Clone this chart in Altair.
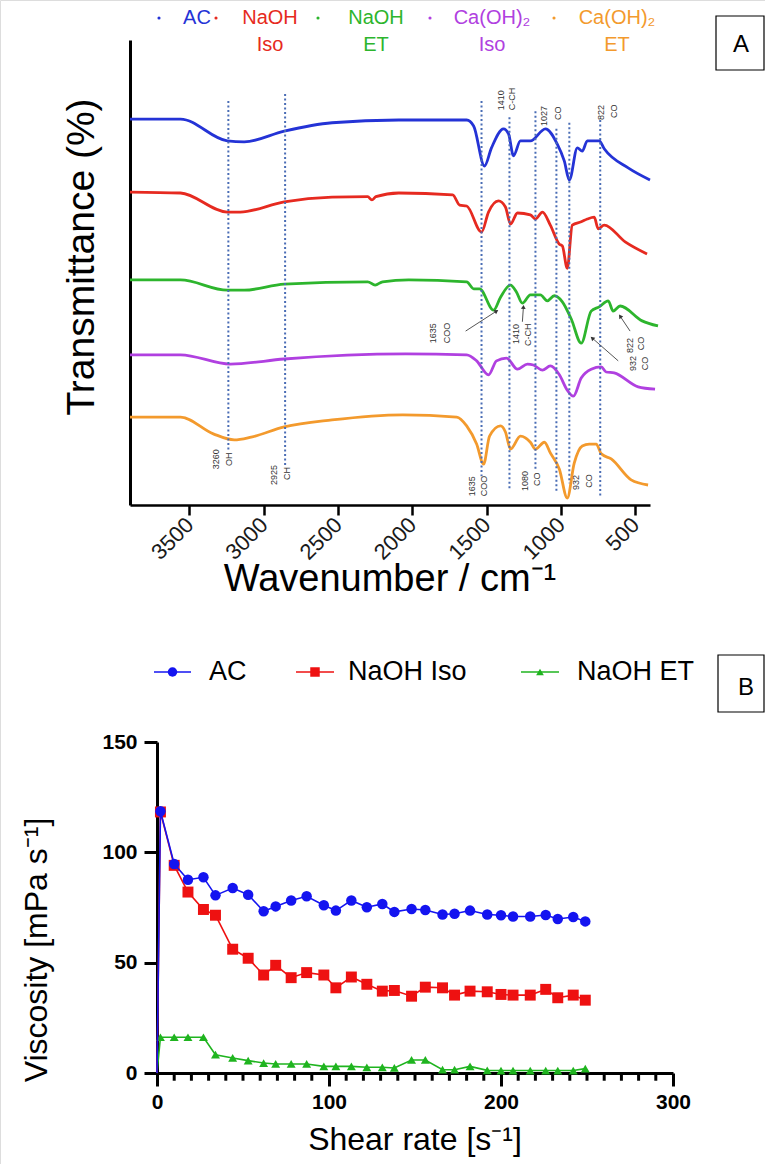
import math
import altair as alt
import pandas as pd

FONT = "Liberation Sans"
W, H = 765, 1164

# ---------------- Panel A : FTIR spectra ----------------
spectra_names = ["AC", "NaOH Iso", "NaOH ET", "Ca(OH)2 Iso", "Ca(OH)2 ET"]
spectra_colors = ["#2433d6", "#e62a20", "#2db52d", "#b040e0", "#f39a2d"]

ac_wn = [3900, 3560, 3245, 3131, 2862, 2540, 2091, 1634, 1587, 1514, 1467, 1386, 1352, 1319,
         1272, 1205, 1104, 1024, 977, 943, 889, 856, 822, 742, 708, 547, 400]
ac_t = [83.0, 83.0, 78.3, 78.1, 80.4, 82.2, 82.8, 82.8, 81.5, 72.9, 76.8, 80.9, 79.8, 75.1,
        78.3, 78.3, 80.9, 77.6, 74.0, 69.9, 76.8, 76.1, 78.3, 78.3, 76.6, 72.5, 69.9]

naoh_iso_wn = [3900, 3560, 3245, 3158, 2862, 2540, 2300, 2272, 2245, 2091, 1728, 1681, 1634, 1534,
               1487, 1420, 1373, 1339, 1292, 1205, 1171, 1124, 1071, 1010, 990, 957, 923, 863,
               822, 775, 749, 708, 567, 420]
naoh_iso_t = [67.3, 67.1, 63.0, 63.0, 65.2, 66.2, 66.3, 65.6, 66.3, 67.1, 66.7, 64.5, 64.3, 58.7,
              63.0, 65.4, 64.1, 60.4, 62.8, 62.4, 61.5, 63.0, 60.2, 56.1, 55.7, 50.9, 60.2, 60.9,
              61.5, 61.9, 59.4, 60.2, 56.6, 54.0]

naoh_et_wn = [3900, 3560, 3245, 3131, 2862, 2300, 2250, 2200, 2024, 1634, 1587, 1547, 1453, 1406,
              1339, 1299, 1259, 1205, 1138, 1091, 1044, 990, 930, 863, 796, 742, 681, 648, 601,
              453, 346]
naoh_et_t = [48.4, 48.4, 46.2, 46.2, 47.5, 48.0, 47.3, 48.0, 48.4, 48.0, 46.5, 46.5, 41.9, 44.7,
             47.3, 45.8, 43.4, 45.2, 45.2, 43.9, 45.0, 43.7, 40.0, 34.8, 41.7, 42.6, 43.9, 41.7,
             42.8, 39.6, 38.5]

caoh_iso_wn = [3900, 3560, 3225, 2862, 2044, 1634, 1567, 1487, 1433, 1366, 1292, 1225, 1185, 1124,
               1071, 1010, 957, 916, 863, 796, 728, 695, 641, 480, 366]
caoh_iso_t = [32.3, 32.3, 30.3, 31.4, 32.5, 32.3, 31.0, 28.0, 31.0, 31.6, 29.2, 30.3, 30.1, 29.0,
              29.9, 28.0, 24.7, 23.4, 27.3, 29.2, 29.7, 28.6, 28.4, 25.4, 24.9]

caoh_et_wn = [3900, 3560, 3339, 3198, 3084, 2862, 2540, 2064, 1701, 1634, 1567, 1520, 1480, 1406,
              1373, 1339, 1272, 1205, 1171, 1111, 1071, 1010, 957, 910, 856, 809, 762, 728, 661,
              527, 413]
caoh_et_t = [18.9, 18.9, 15.3, 14.0, 14.6, 16.8, 18.3, 19.4, 18.9, 17.0, 13.1, 8.8, 14.8, 17.0,
             15.7, 12.0, 14.8, 13.5, 12.0, 13.5, 11.2, 7.7, 1.5, 9.0, 12.7, 13.1, 13.1, 11.0, 9.9,
             5.4, 4.3]

# dotted band markers (position, top, bottom)
band_wn = [3238, 2856, 1534, 1346, 1171, 1030, 943, 735]
band_top = [86.9, 88.4, 86.9, 83.4, 84.7, 80.9, 82.2, 82.8]
band_bottom = [11.6, 8.4, 6.2, 3.2, 7.7, 2.6, 4.7, 1.9]

# peak annotations
peak_text = ["1410", "C-CH", "1027", "CO", "822", "CO",
             "3260", "OH", "2925", "CH", "1635", "COO", "1080", "CO", "932", "CO",
             "1635", "COO", "1410", "C-CH", "822", "CO", "932", "CO"]
peak_wn = [1406, 1326, 1111, 1017, 728, 641,
           3319, 3232, 2930, 2842, 1601, 1520, 1238, 1158, 896, 809,
           1862, 1769, 1299, 1218, 534, 460, 514, 433]
peak_t = [84.9, 84.9, 81.5, 82.8, 82.8, 83.2,
          7.7, 8.4, 4.3, 5.4, 1.9, 1.9, 3.0, 4.1, 3.2, 3.7,
          34.8, 34.8, 34.6, 34.2, 32.7, 33.3, 28.8, 29.0]

# arrows on NaOH ET spectrum
arrow_wn_from = [1641, 1259, 614, 534]
arrow_t_from = [37.4, 39.4, 31.0, 37.4]
arrow_wn_to = [1433, 1252, 789, 601]
arrow_t_to = [41.7, 42.6, 35.9, 40.6]

wn_ticks = [3500, 3000, 2500, 2000, 1500, 1000, 500]

# ---------------- Panel B : viscosity ----------------
series_names = ["AC", "NaOH Iso", "NaOH ET"]
series_colors = ["#1414f0", "#ee1111", "#1fb41f"]
series_shapes = ["circle", "square", "triangle-up"]
shear = [2, 10, 18, 27, 34, 44, 53, 62, 69, 78, 87, 97, 104, 113, 122, 131, 138, 148, 156, 166,
         173, 182, 192, 200, 207, 217, 226, 233, 242, 249]
ac_visc = [118.6, 94.7, 87.6, 88.7, 80.5, 83.8, 80.8, 73.3, 75.5, 78.2, 80.1, 76.0, 73.6, 78.2,
           75.1, 76.6, 73.0, 74.3, 73.9, 71.8, 72.2, 73.6, 71.8, 71.5, 70.9, 70.9, 71.6, 69.8,
           70.7, 68.7]
naoh_iso_visc = [118.3, 94.1, 82.0, 74.1, 71.5, 56.1, 52.0, 44.4, 48.8, 43.2, 45.5, 44.4, 38.6,
                 43.5, 40.2, 37.1, 37.4, 34.8, 38.9, 38.6, 35.3, 37.1, 36.8, 35.6, 35.3, 35.3,
                 37.9, 34.1, 35.3, 33.0]
naoh_et_visc = [16.2, 16.2, 16.2, 16.2, 8.3, 6.8, 5.6, 4.5, 4.1, 4.1, 4.1, 3.0, 3.0, 3.0, 2.6, 2.6,
                2.3, 5.9, 5.9, 1.5, 1.5, 3.0, 1.2, 1.1, 1.1, 1.1, 1.1, 1.1, 1.1, 2.0]
start_shear, start_visc = 0, 0
shear_ticks = [0, 100, 200, 300]
shear_minor = [v for v in range(10, 300, 10) if v % 100 != 0]
visc_ticks = [0, 50, 100, 150]

# ---------------- scales / axes ----------------
A_X0, A_X1, A_Y0, A_Y1 = 130, 650, 505, 40
B_X0, B_X1, B_Y0, B_Y1 = 157, 673, 1073, 742

xA_scale = alt.Scale(domain=[3900, 400], range=[A_X0, A_X1], nice=False, zero=False)
yA_scale = alt.Scale(domain=[0, 100], range=[A_Y0, A_Y1], nice=False, zero=False)
xA_axis = alt.Axis(orient="bottom", offset=A_Y0 - H, values=wn_ticks, labelAngle=-45,
                   labelAlign="right", labelBaseline="middle", labelFontSize=22, labelFont=FONT,
                   labelColor="#1a1a1a", labelPadding=6, tickSize=10, tickWidth=2.5,
                   tickColor="black", domainColor="black", domainWidth=2.5, grid=False,
                   title=None, labelFlush=False, labelOverlap=False, format="d")
yA_axis = alt.Axis(orient="left", offset=-A_X0, ticks=False, labels=False, domainColor="black",
                   domainWidth=3, grid=False, title=None)

xB_scale = alt.Scale(domain=[0, 300], range=[B_X0, B_X1], nice=False, zero=False)
yB_scale = alt.Scale(domain=[0, 150], range=[B_Y0, B_Y1], nice=False, zero=False)
xB_axis = alt.Axis(orient="bottom", offset=B_Y0 - H, values=shear_ticks, tickSize=13,
                   tickWidth=3, tickColor="black", domainColor="black", domainWidth=3,
                   labelFontSize=21, labelFontWeight="bold", labelFont=FONT, labelColor="black",
                   labelPadding=5, grid=False, title=None, labelFlush=False, labelOverlap=False,
                   format="d")
yB_axis = alt.Axis(orient="left", offset=-B_X0, values=visc_ticks, tickSize=13, tickWidth=3,
                   tickColor="black", domainColor="black", domainWidth=3, labelFontSize=21,
                   labelFontWeight="bold", labelFont=FONT, labelColor="black", labelPadding=7,
                   grid=False, title=None, labelFlush=False, labelOverlap=False, format="d")


def xa(f):
    return alt.X(f"{f}:Q", scale=xA_scale, axis=xA_axis)


def ya(f):
    return alt.Y(f"{f}:Q", scale=yA_scale, axis=yA_axis)


def xb(f):
    return alt.X(f"{f}:Q", scale=xB_scale, axis=xB_axis)


def yb(f):
    return alt.Y(f"{f}:Q", scale=yB_scale, axis=yB_axis)


# ---------------- Panel A layers ----------------
rows = []
for name, color, wns, ts in zip(spectra_names, spectra_colors,
                                [ac_wn, naoh_iso_wn, naoh_et_wn, caoh_iso_wn, caoh_et_wn],
                                [ac_t, naoh_iso_t, naoh_et_t, caoh_iso_t, caoh_et_t]):
    for w_, t_ in zip(wns, ts):
        rows.append({"sample": name, "color": color, "wn": w_, "T": t_})
df_spec = pd.DataFrame(rows)

curves = alt.Chart(df_spec).mark_line(strokeWidth=2.8, interpolate="monotone").encode(
    x=xa("wn"), y=ya("T"), color=alt.Color("color:N", scale=None), detail="sample:N",
    order=alt.Order("wn:Q", sort="descending"))

df_bands = pd.DataFrame({"wn": band_wn, "top": band_top, "bottom": band_bottom})
bands = alt.Chart(df_bands).mark_rule(color="#4a6db5", strokeWidth=2, strokeDash=[2, 2.5]).encode(
    x=xa("wn"), y=ya("top"), y2="bottom:Q")

df_peaks = pd.DataFrame({"label": peak_text, "wn": peak_wn, "T": peak_t})
peaks = alt.Chart(df_peaks).mark_text(angle=270, align="left", baseline="middle", fontSize=9,
                                      color="#333333", font=FONT).encode(
    x=xa("wn"), y=ya("T"), text="label:N")

kx = (A_X1 - A_X0) / 3500.0
ky = (A_Y0 - A_Y1) / 100.0
angles = []
for w1, t1, w2, t2 in zip(arrow_wn_from, arrow_t_from, arrow_wn_to, arrow_t_to):
    dx = (w1 - w2) * kx
    dy = -(t2 - t1) * ky
    angles.append(math.degrees(math.atan2(dx, -dy)) % 360)
df_arrows = pd.DataFrame({"wn1": arrow_wn_from, "t1": arrow_t_from, "wn2": arrow_wn_to,
                          "t2": arrow_t_to, "ang": angles})
arrows = alt.Chart(df_arrows).mark_rule(color="#555555", strokeWidth=1).encode(
    x=xa("wn1"), x2="wn2:Q", y=ya("t1"), y2="t2:Q")
heads = alt.Chart(df_arrows).mark_point(shape="triangle-up", filled=True, size=22, color="#333333",
                                        opacity=1).encode(
    x=xa("wn2"), y=ya("t2"), angle=alt.Angle("ang:Q", scale=None))

panelA = alt.layer(curves, bands, peaks, arrows, heads)

# ---------------- Panel B layers ----------------
b_layers = []
df_minor = pd.DataFrame({"s": shear_minor})
b_layers.append(alt.Chart(df_minor).mark_rule(color="black", strokeWidth=3).encode(
    x=xb("s"), y=alt.YDatum(0, scale=yB_scale, axis=yB_axis, type="quantitative"),
    y2=alt.Y2Datum(-3.5)))
visc_series = [ac_visc, naoh_iso_visc, naoh_et_visc]
for idx in [2, 1, 0]:
    name, color, shape, vals = series_names[idx], series_colors[idx], series_shapes[idx], visc_series[idx]
    df_line = pd.DataFrame({"s": [start_shear] + shear, "v": [start_visc] + vals})
    df_pts = pd.DataFrame({"s": shear, "v": vals})
    b_layers.append(alt.Chart(df_line).mark_line(color=color, strokeWidth=1.6).encode(
        x=xb("s"), y=yb("v")))
    size = {"circle": 110, "square": 120, "triangle-up": 80}[shape]
    b_layers.append(alt.Chart(df_pts).mark_point(shape=shape, filled=True, size=size, color=color,
                                                 opacity=1).encode(x=xb("s"), y=yb("v")))
panelB = alt.layer(*b_layers)

# ---------------- decorations (titles, legends, panel tags) ----------------
one = pd.DataFrame({"s": [""]})


def txt(s, x, y, size, color="black", angle=0, weight="normal", align="center"):
    return alt.Chart(pd.DataFrame({"s": [s]})).mark_text(
        font=FONT, fontSize=size, color=color, angle=angle, fontWeight=weight, align=align,
        baseline="middle").encode(text="s:N", x=alt.value(x), y=alt.value(y))


def box(x1, y1, x2, y2):
    return alt.Chart(one).mark_rect(filled=False, color="black", strokeWidth=1.2).encode(
        x=alt.value(x1), x2=alt.value(x2), y=alt.value(y1), y2=alt.value(y2))


decos = []
# Panel A legend
legA_dot_x = [159, 216, 318, 430, 554]
legA_txt_x = [197, 270, 376, 492, 617]
for name, color, dx, tx in zip(spectra_names, spectra_colors, legA_dot_x, legA_txt_x):
    decos.append(alt.Chart(one).mark_circle(size=10, color=color, opacity=1).encode(
        x=alt.value(dx), y=alt.value(18)))
    parts = name.replace("(OH)2", "(OH)\u2082").split(" ")
    decos.append(txt(parts[0], tx, 18, 20, color))
    if len(parts) > 1:
        decos.append(txt(parts[1], tx, 45, 20, color))
decos.append(box(716, 16, 764, 70))
decos.append(txt("A", 741, 45, 24))
decos.append(txt("Transmittance (%)", 82, 257, 39, angle=270))
decos.append(txt("Wavenumber / cm\u207b\u00b9", 390, 580, 38))

# Panel B legend
legB_line_x = [(154, 191), (296, 334), (521, 559)]
legB_txt_x = [209, 348, 577]
LEG_Y = 672
for name, color, shape, (l0, l1), tx in zip(series_names, series_colors, series_shapes,
                                           legB_line_x, legB_txt_x):
    decos.append(alt.Chart(one).mark_rule(color=color, strokeWidth=1.6).encode(
        x=alt.value(l0), x2=alt.value(l1), y=alt.value(LEG_Y)))
    size = {"circle": 90, "square": 90, "triangle-up": 60}[shape]
    decos.append(alt.Chart(one).mark_point(shape=shape, filled=True, size=size, color=color,
                                           opacity=1).encode(
        x=alt.value((l0 + l1) / 2), y=alt.value(LEG_Y)))
    decos.append(txt(name, tx, LEG_Y, 27, align="left"))
decos.append(box(718, 655, 764, 712))
decos.append(txt("B", 746, 688, 24))
decos.append(txt("Viscosity [mPa s\u207b\u00b9]", 37, 950, 32, angle=270))
decos.append(txt("Shear rate [s\u207b\u00b9]", 415, 1140, 32))

chart = alt.layer(panelA, panelB, *decos).resolve_scale(
    x="independent", y="independent"
).properties(
    width=W, height=H, padding=0, autosize=alt.AutoSizeParams(type="none")
).configure_view(stroke=None).configure(font=FONT, background="white")

chart.save("out.html", embed_options={"renderer": "svg", "actions": False})
